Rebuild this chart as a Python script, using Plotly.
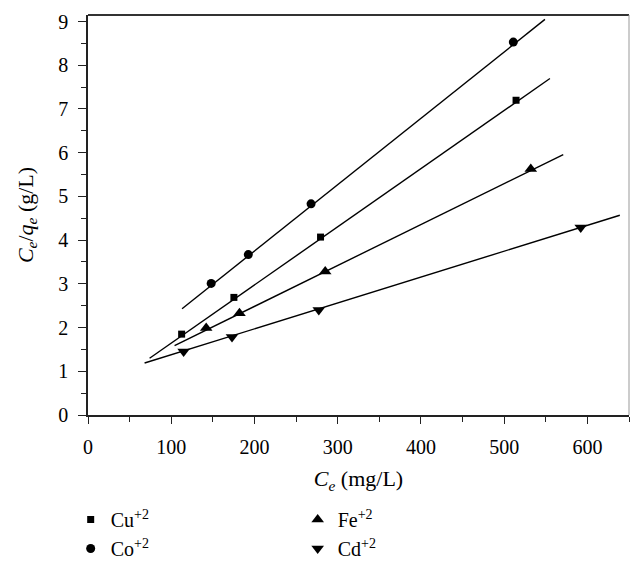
import plotly.graph_objects as go
import numpy as np

# ---- data ----
series_names = ["Cu<sup>+2</sup>", "Fe<sup>+2</sup>", "Co<sup>+2</sup>", "Cd<sup>+2</sup>"]
symbols = ["square", "triangle-up", "circle", "triangle-down"]
marker_sizes = [7, 11, 9, 11]

cu_x = [112.5, 175.3, 279.4, 514.3]
cu_y = [1.85, 2.69, 4.07, 7.20]
fe_x = [142.0, 182.0, 285.0, 532.0]
fe_y = [1.99, 2.33, 3.28, 5.63]
co_x = [148.0, 192.6, 268.0, 511.0]
co_y = [3.01, 3.67, 4.83, 8.53]
cd_x = [114.9, 173.0, 277.3, 592.0]
cd_y = [1.455, 1.785, 2.40, 4.29]

# linear fits: slope, intercept, x-start, x-end
fit_slope = [0.0133, 0.00936, 0.01518, 0.00592]
fit_intercept = [0.315, 0.612, 0.715, 0.787]
fit_xstart = [74, 104, 113, 68]
fit_xend = [555, 571, 549, 639]

xs = [cu_x, fe_x, co_x, cd_x]
ys = [cu_y, fe_y, co_y, cd_y]

FONT = "Liberation Serif"
fig = go.Figure()

for i in range(4):
    lx = np.array([fit_xstart[i], fit_xend[i]], dtype=float)
    ly = fit_slope[i] * lx + fit_intercept[i]
    fig.add_trace(go.Scatter(x=lx, y=ly, mode="lines",
                             line=dict(color="black", width=1.4),
                             showlegend=False, hoverinfo="skip"))

for i in range(4):
    fig.add_trace(go.Scatter(x=xs[i], y=ys[i], mode="markers", name=series_names[i],
                             marker=dict(symbol=symbols[i], size=marker_sizes[i], color="black")))

# page body has an 8px margin, so the figure is sized to fit 644x571 with it
fig.update_layout(
    width=636, height=563,
    margin=dict(l=80, r=15, t=7, b=156, autoexpand=False),
    paper_bgcolor="white", plot_bgcolor="white",
    font=dict(family=FONT, size=20, color="black"),
    showlegend=True,
    legend=dict(orientation="h", x=-0.032, xanchor="left", y=-0.2125, yanchor="top",
                entrywidth=182, entrywidthmode="pixels",
                font=dict(family=FONT, size=20), itemsizing="trace",
                tracegroupgap=0, bgcolor="rgba(0,0,0,0)"),
    xaxis=dict(range=[0, 650], dtick=100, tick0=0, showgrid=False, zeroline=False,
               showline=True, linecolor="#222", linewidth=1.5,
               ticks="outside", ticklen=7, tickwidth=1.3, tickcolor="#222",
               ticklabelstandoff=6,
               minor=dict(ticks="outside", ticklen=5, dtick=50, tickcolor="#222", tickwidth=1.2),
               title=dict(text="<i>C</i><sub><i>e</i></sub> (mg/L)", standoff=14,
                          font=dict(family=FONT, size=22))),
    yaxis=dict(range=[0, 9.15], dtick=1, tick0=0, showgrid=False, zeroline=False,
               showline=True, linecolor="#222", linewidth=1.5,
               ticks="outside", ticklen=8, tickwidth=1.3, tickcolor="#222",
               ticklabelstandoff=6,
               minor=dict(ticks="outside", ticklen=5, dtick=0.5, tickcolor="#222", tickwidth=1.2),
               title=dict(text="<i>C</i><sub><i>e</i></sub>/<i>q</i><sub><i>e</i></sub> (g/L)",
                          standoff=19, font=dict(family=FONT, size=22))),
    shapes=[
        dict(type="line", xref="paper", yref="paper", x0=0, x1=1, y0=1, y1=1,
             line=dict(color="#333", width=2)),
        dict(type="line", xref="paper", yref="paper", x0=1, x1=1, y0=0, y1=1,
             line=dict(color="#999", width=1)),
    ],
)

fig.write_html("out.html")
